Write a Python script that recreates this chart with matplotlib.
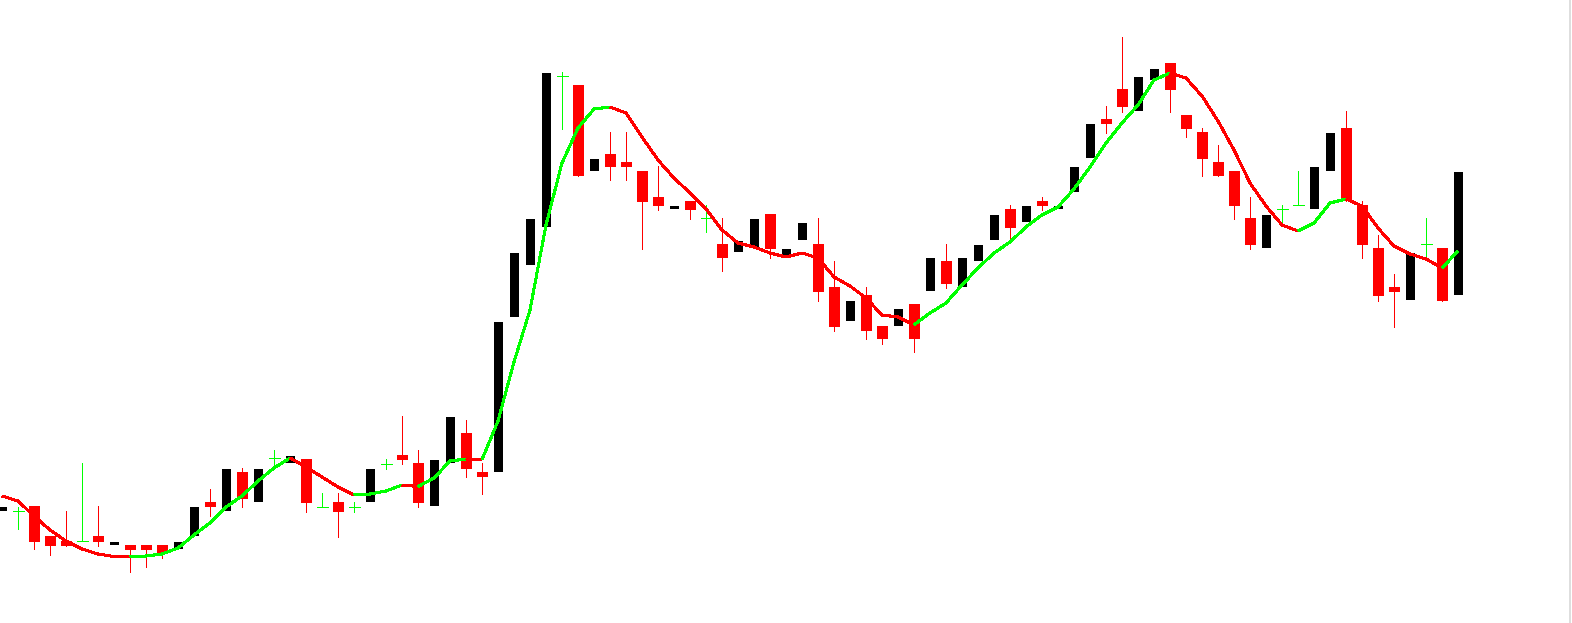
import matplotlib.pyplot as plt
import numpy as np

# OHLC in chart points (0 = bottom of the window), one entry per bar
opens = [112, 112, 117, 87, 82, 82, 87, 78, 78, 78, 78, 74, 87, 121, 112, 151,
         121, 165, 160, 164, 116, 121, 116, 121, 159, 168, 160, 117, 160, 190,
         151, 151, 306, 358, 396, 547, 538, 452, 469, 461, 452, 426, 414, 422,
         405, 379, 371, 376, 409, 366, 383, 379, 336, 302, 328, 297, 297, 319,
         332, 362, 336, 362, 383, 414, 401, 422, 414, 431, 465, 504, 534, 512,
         543, 560, 508, 491, 461, 452, 405, 375, 414, 418, 414, 452, 495, 418,
         375, 336, 323, 379, 375, 328]
highs = [116, 116, 117, 87, 112, 160, 117, 81, 78, 78, 78, 81, 116, 134, 154, 155,
         154, 173, 167, 164, 130, 130, 121, 154, 164, 207, 173, 163, 206, 203,
         160, 301, 370, 404, 550, 551, 538, 464, 491, 491, 452, 457, 417, 422,
         418, 405, 382, 404, 409, 374, 400, 405, 362, 322, 336, 297, 314, 319,
         365, 379, 365, 378, 408, 418, 417, 426, 417, 456, 499, 517, 586, 546,
         554, 560, 508, 495, 478, 452, 426, 408, 418, 452, 456, 490, 512, 422,
         388, 349, 370, 405, 375, 451]
lows = [112, 94, 74, 68, 77, 82, 77, 78, 51, 56, 65, 74, 87, 107, 112, 116,
        121, 156, 160, 111, 116, 86, 111, 121, 154, 159, 116, 117, 160, 146,
        129, 151, 306, 358, 396, 494, 447, 452, 443, 443, 374, 413, 414, 404,
        391, 352, 371, 376, 365, 366, 383, 322, 292, 302, 284, 279, 297, 271,
        332, 335, 336, 362, 383, 382, 401, 413, 414, 431, 465, 490, 511, 512,
        543, 511, 486, 447, 447, 404, 374, 375, 398, 418, 414, 452, 422, 365,
        322, 296, 323, 365, 322, 328]
closes = [116, 112, 81, 77, 77, 82, 81, 81, 73, 73, 69, 81, 116, 116, 154, 124,
          154, 165, 167, 120, 116, 111, 116, 154, 159, 163, 120, 163, 206, 154,
          146, 301, 370, 404, 550, 547, 447, 464, 456, 456, 421, 417, 417, 413,
          405, 365, 382, 404, 374, 374, 400, 331, 296, 322, 292, 284, 314, 284,
          365, 339, 365, 378, 408, 395, 417, 417, 417, 456, 499, 499, 516, 546,
          554, 533, 494, 464, 447, 417, 378, 408, 414, 418, 456, 490, 422, 378,
          327, 331, 370, 379, 322, 451]

# moving average line and its colour state per bar (u = rising, d = falling)
ma = [127, 122, 107, 93, 82, 74, 69, 66.5, 66, 67, 69, 75, 88, 100, 116, 127,
      142, 155, 165, 156, 146, 136, 128, 129, 132, 138, 136.5, 145, 162, 164,
      163.5, 202, 261, 313, 398, 460, 495, 514, 516, 510, 486, 463, 445, 430,
      414, 393, 380, 376, 370, 366, 370, 365, 346, 337, 325, 308, 306, 298,
      310, 320, 338, 355, 370, 381, 396, 408, 416, 434, 456, 480, 500, 518,
      543, 550, 545, 527, 502, 473, 440, 417, 398, 392, 400, 420, 424, 417,
      395, 377, 369, 364, 355, 372]
ma_trend = ("ddddddddd" "uuuuuuuuuu" "dddd" "uuu" "d" "uuu" "d" "uuuuuuuu"
            "ddddddddddddddddddd" "uuuuuuuuuuuuuuuu" "dddddddd" "uuu"
            "dddddd" "u")

RED = "#ff0000"
GREEN = "#00ff00"
BLACK = "#000000"
PX = 0.72  # one pixel in points at dpi 100

W, H = 1572, 623
fig = plt.figure(figsize=(W / 100, H / 100), dpi=100, facecolor="white")
ax = fig.add_axes([0, 0, 1570 / W, 1])
ax.set_xlim(-0.125, -0.125 + 1570 / 16)
ax.set_ylim(0, H)

o = np.array(opens, dtype=float)
hi = np.array(highs, dtype=float)
lo = np.array(lows, dtype=float)
c = np.array(closes, dtype=float)
x = np.arange(len(o))

up = c > o
down = c < o
doji = c == o

# bearish candles: red wick + red body
ax.vlines(x[down], lo[down], hi[down], color=RED, linewidth=PX,
          antialiased=False, zorder=2)
ax.bar(x[down], o[down] - c[down], bottom=c[down], width=11 / 16,
       color=RED, linewidth=0, antialiased=False, zorder=3)

# bullish candles: plain black body
ax.bar(x[up], c[up] - o[up], bottom=o[up], width=9 / 16,
       color=BLACK, linewidth=0, antialiased=False, zorder=3)

# doji: green cross
ax.vlines(x[doji], lo[doji], hi[doji], color=GREEN, linewidth=PX,
          antialiased=False, zorder=3)
ax.hlines(o[doji], x[doji] - 5.5 / 16, x[doji] + 5.5 / 16, color=GREEN,
          linewidth=PX, antialiased=False, zorder=3)

# moving average, coloured by direction
for i in range(1, len(ma)):
    col = GREEN if ma_trend[i] == "u" else RED
    ax.plot([x[i - 1], x[i]], [ma[i - 1], ma[i]], color=col,
            linewidth=2 * PX, antialiased=False, solid_capstyle="butt",
            zorder=5)

ax.set_xticks([])
ax.set_yticks([])
for side in ("left", "top", "bottom"):
    ax.spines[side].set_visible(False)
ax.spines["right"].set_color("#dedede")
ax.spines["right"].set_linewidth(2 * PX)

fig.savefig("out.png", dpi=100, facecolor="white")
